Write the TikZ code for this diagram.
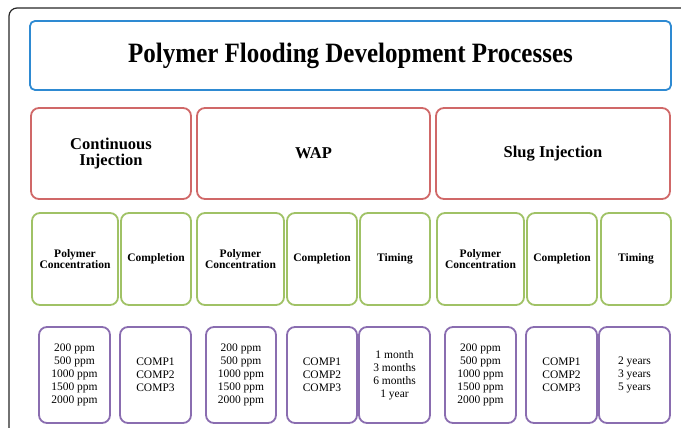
\documentclass[tikz,border=0pt]{standalone}
\usepackage{fontspec}
\setmainfont{Liberation Serif}
\definecolor{tblue}{HTML}{2E8AD2}
\definecolor{tred}{HTML}{D06868}
\definecolor{tgreen}{HTML}{A0C266}
\definecolor{tpurple}{HTML}{8A6DB0}
\tikzset{
  basebox/.style={draw, line width=1.8pt, rounded corners=8pt, inner sep=0pt, align=center, fill=white},
  titlebox/.style={basebox, draw=tblue, rounded corners=5pt, font=\fontsize{25}{30}\selectfont\bfseries},
  methodbox/.style={basebox, draw=tred, minimum height=91pt, font=\fontsize{16.5}{15.5}\selectfont\bfseries},
  parambox/.style={basebox, draw=tgreen, minimum height=92pt, font=\fontsize{11.5}{10.8}\selectfont\bfseries},
  valuebox/.style={basebox, draw=tpurple, minimum height=96pt, font=\fontsize{11.5}{13.1}\selectfont},
}
\begin{document}
\begin{tikzpicture}[x=1pt, y=-1pt]
\useasboundingbox (0,0) rectangle (681,428);
% outer frame (cropped)
\coordinate (fbl) at (9,430);
\coordinate (ftl) at (9,8);
\coordinate (ftr) at (683,8);
\draw[line width=1.2pt, black!85, rounded corners=8pt] (fbl) -- (ftl) -- (ftr);
% title
\node[titlebox, minimum width=641pt, minimum height=69pt] (title) at (350.5,55.5) {\scalebox{1}[1.12]{Polymer Flooding Development Processes}};
% methods
\node[methodbox, minimum width=160pt] (cont) at (111,153.5) {Continuous\\Injection};
\node[methodbox, minimum width=233pt] (wap) at (313.5,153.5) {WAP};
\node[methodbox, minimum width=234pt] (slug) at (553,153.5) {Slug Injection};
% parameters
\node[parambox, minimum width=86pt] (p1) at (75,259) {Polymer\\Concentration};
\node[parambox, minimum width=70pt] (p2) at (156,259) {Completion};
\node[parambox, minimum width=87pt] (p3) at (240.5,259) {Polymer\\Concentration};
\node[parambox, minimum width=70pt] (p4) at (322,259) {Completion};
\node[parambox, minimum width=70pt] (p5) at (395,259) {Timing};
\node[parambox, minimum width=87pt] (p6) at (480.5,259) {Polymer\\Concentration};
\node[parambox, minimum width=70pt] (p7) at (562,259) {Completion};
\node[parambox, minimum width=70pt] (p8) at (636,259) {Timing};
% values
\node[valuebox, minimum width=71pt] (v1) at (74.5,375) {200 ppm\\500 ppm\\1000 ppm\\1500 ppm\\2000 ppm};
\node[valuebox, minimum width=71pt] (v2) at (155.5,375) {COMP1\\COMP2\\COMP3};
\node[valuebox, minimum width=70pt] (v3) at (241,375) {200 ppm\\500 ppm\\1000 ppm\\1500 ppm\\2000 ppm};
\node[valuebox, minimum width=70pt] (v4) at (322,375) {COMP1\\COMP2\\COMP3};
\node[valuebox, minimum width=71pt] (v5) at (394.5,375) {1 month\\3 months\\6 months\\1 year};
\node[valuebox, minimum width=71pt] (v6) at (480.5,375) {200 ppm\\500 ppm\\1000 ppm\\1500 ppm\\2000 ppm};
\node[valuebox, minimum width=71pt] (v7) at (561.5,375) {COMP1\\COMP2\\COMP3};
\node[valuebox, minimum width=71pt] (v8) at (634.5,375) {2 years\\3 years\\5 years};
\end{tikzpicture}
\end{document}
